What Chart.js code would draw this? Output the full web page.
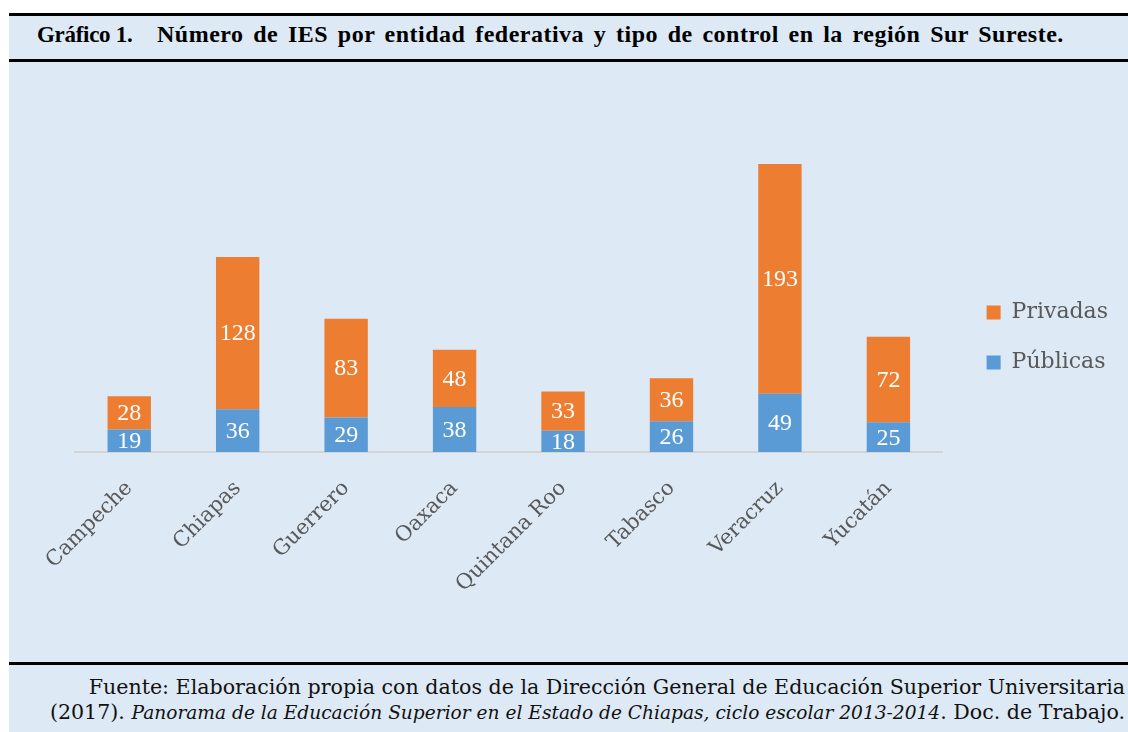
<!DOCTYPE html>
<html>
<head>
<meta charset="utf-8">
<script src="https://cdn.jsdelivr.net/npm/chart.js@4"></script>
<style>
  html, body { margin: 0; padding: 0; background: #fff; }
  body { width: 1128px; height: 732px; position: relative; overflow: hidden; }
  #panel { position: absolute; left: 9px; top: 13px; right: 0; bottom: 0; background: #dde9f5; }
  .rule { position: absolute; left: 9px; right: 0; height: 3px; background: #000; }
  .title { position: absolute; top: 22px; font: bold 23px "Liberation Serif", serif; color: #000; white-space: nowrap; }
  #num { letter-spacing: -0.3px; }
  #main { font-size: 24px; letter-spacing: 0.5px; word-spacing: 3.2px; top: 21px; }
  #foot { position: absolute; right: 3px; top: 675px; font: 20.6px "DejaVu Serif", serif; line-height: 25px;
          text-align: right; color: #111; white-space: nowrap; }
  #foot i { font-size: 18.6px; }
  #wrap { position: absolute; left: 0; top: 50px; width: 1128px; height: 612px; }
</style>
</head>
<body>
<div id="panel"></div>
<div class="rule" style="top:13px"></div>
<div class="rule" style="top:59px"></div>
<div class="rule" style="top:662px"></div>
<div class="title" id="num" style="left:37px">Gráfico 1.</div>
<div class="title" id="main" style="left:157px">Número de IES por entidad federativa y tipo de control en la región Sur Sureste.</div>
<div id="foot">Fuente: Elaboración propia con datos de la Dirección General de Educación Superior Universitaria<br>(2017). <i>Panorama de la Educación Superior en el Estado de Chiapas, ciclo escolar 2013-2014</i>. Doc. de Trabajo.</div>
<div id="wrap"><canvas id="chart"></canvas></div>
<script>
const estados = ['Campeche', 'Chiapas', 'Guerrero', 'Oaxaca', 'Quintana Roo', 'Tabasco', 'Veracruz', 'Yucatán'];
const publicas = [19, 36, 29, 38, 18, 26, 49, 25];
const privadas = [28, 128, 83, 48, 33, 36, 193, 72];

const GRAY = '#595959';

// value written in the middle of each bar piece
const barLabels = {
  id: 'barLabels',
  afterDatasetsDraw(chart) {
    const ctx = chart.ctx;
    ctx.save();
    ctx.font = '24px "Liberation Serif"';
    ctx.fillStyle = '#fff';
    ctx.textAlign = 'center';
    ctx.textBaseline = 'middle';
    chart.data.datasets.forEach((ds, i) => {
      chart.getDatasetMeta(i).data.forEach((bar, j) => {
        const {x, y, base} = bar.getProps(['x', 'y', 'base'], true);
        ctx.fillText(ds.data[j], x, (y + base) / 2 + 1);
      });
    });
    ctx.restore();
  }
};

new Chart(document.getElementById('chart'), {
  type: 'bar',
  data: {
    labels: estados,
    datasets: [
      {label: 'Públicas', data: publicas, backgroundColor: '#5b9bd5', borderWidth: 0},
      {label: 'Privadas', data: privadas, backgroundColor: '#ed7d31', borderWidth: 0},
    ]
  },
  options: {
    responsive: true,
    maintainAspectRatio: false,
    animation: false,
    layout: {padding: {left: 75, right: 10, top: 12, bottom: 49}},
    datasets: {bar: {categoryPercentage: 1, barPercentage: 0.4}},
    scales: {
      x: {
        stacked: true,
        grid: {display: false},
        border: {display: true, color: '#d4d4d4', width: 2},
        ticks: {
          color: GRAY,
          font: {family: 'DejaVu Serif', size: 21},
          minRotation: 45,
          maxRotation: 45,
          padding: 16,
        }
      },
      y: {
        stacked: true,
        position: 'right',
        min: 0,
        max: 327.7,
        grid: {display: false},
        border: {display: false},
        ticks: {display: false},
        afterFit: (scale) => { scale.width = 16; }
      }
    },
    plugins: {
      tooltip: {enabled: false},
      legend: {
        position: 'right',
        reverse: true,
        labels: {
          boxWidth: 14,
          boxHeight: 14,
          padding: 28,
          color: GRAY,
          font: {family: 'DejaVu Serif', size: 22},
        }
      }
    }
  },
  plugins: [barLabels]
});
</script>
</body>
</html>
